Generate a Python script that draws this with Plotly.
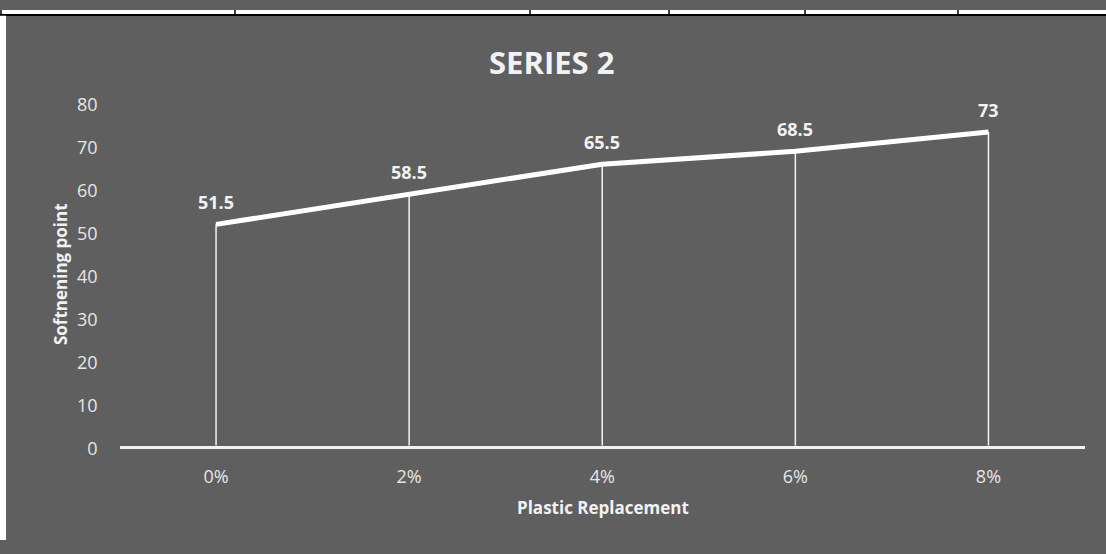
import plotly.graph_objects as go

categories = ["0%", "2%", "4%", "6%", "8%"]
values = [51.5, 58.5, 65.5, 68.5, 73]
y_ticks = [0, 10, 20, 30, 40, 50, 60, 70, 80]
title_text = "SERIES 2"
x_title = "Plastic Replacement"
y_title = "Softnening point"
table_lines_x = [1, 235, 530, 669, 805, 958]

W, H = 1106, 554
BG = "#5f5f5f"
FONT = "Open Sans"

def px(x):
    return x / W

def py(y):
    return 1 - y / H

fig = go.Figure()

# drop lines from each point to the axis
fig.add_trace(go.Scatter(
    x=categories, y=values, mode="markers",
    marker=dict(size=1, color="rgba(0,0,0,0)"),
    error_y=dict(type="data", symmetric=False, array=[0] * len(values),
                 arrayminus=values, color="#f2f2f2", thickness=1.5, width=0),
    hoverinfo="skip", showlegend=False,
))

# main line
fig.add_trace(go.Scatter(
    x=categories, y=values, mode="lines",
    line=dict(color="white", width=5),
    hoverinfo="skip", showlegend=False,
))

annotations = []
for c, v in zip(categories, values):
    annotations.append(dict(
        x=c, y=v, xref="x", yref="y", text=f"<b>{v:g}</b>", showarrow=False,
        yshift=22, font=dict(family=FONT, size=18, color="#f2f2f2"),
    ))

annotations += [
    dict(x=px(551), y=py(54), xref="paper", yref="paper", text=f"<b>{title_text}</b>",
         showarrow=False, font=dict(family=FONT, size=31, color="#f2f2f2"),
         xanchor="center", yanchor="middle"),
    dict(x=px(603), y=py(520), xref="paper", yref="paper", text=f"<b>{x_title}</b>",
         showarrow=False, font=dict(family=FONT, size=17, color="#f2f2f2"),
         xanchor="center", yanchor="middle"),
    dict(x=px(60), y=py(276), xref="paper", yref="paper", text=f"<b>{y_title}</b>",
         showarrow=False, textangle=-90, font=dict(family=FONT, size=17, color="#f2f2f2"),
         xanchor="center", yanchor="middle"),
]

shapes = [
    # white strip at the top (table remnant)
    dict(type="rect", xref="paper", yref="paper", x0=0, x1=1, y0=py(6), y1=1,
         fillcolor="white", line=dict(width=0), layer="above"),
    dict(type="line", xref="paper", yref="paper", x0=0, x1=1, y0=py(5.3), y1=py(5.3),
         line=dict(color="black", width=2), layer="above"),
    # white strip on the left
    dict(type="rect", xref="paper", yref="paper", x0=0, x1=px(6), y0=0, y1=py(6),
         fillcolor="white", line=dict(width=0), layer="above"),
]
for xl in table_lines_x:
    shapes.append(dict(type="line", xref="paper", yref="paper", x0=px(xl), x1=px(xl),
                       y0=py(5), y1=1, line=dict(color="black", width=1.5), layer="above"))

fig.update_layout(
    width=W, height=H,
    margin=dict(l=0, r=0, t=0, b=0),
    paper_bgcolor=BG, plot_bgcolor=BG,
    showlegend=False,
    xaxis=dict(
        domain=[px(119.5), px(1085)], range=[-0.5, len(categories) - 0.5],
        type="category", showgrid=False, zeroline=False,
        showline=True, linecolor="#f2f2f2", linewidth=2.5,
        ticks="", tickfont=dict(family=FONT, size=18, color="#e6e6e6"),
        ticklabelstandoff=13, fixedrange=True,
    ),
    yaxis=dict(
        domain=[1 - 455.5 / H, 1 - 96 / H], range=[0, 80],
        tickvals=y_ticks, showgrid=False, zeroline=False, showline=False,
        ticks="", tickfont=dict(family=FONT, size=18, color="#e6e6e6"),
        ticklabelstandoff=21, ticklabelshift=3, fixedrange=True,
    ),
    annotations=annotations,
    shapes=shapes,
)

fig.write_html("out.html")
